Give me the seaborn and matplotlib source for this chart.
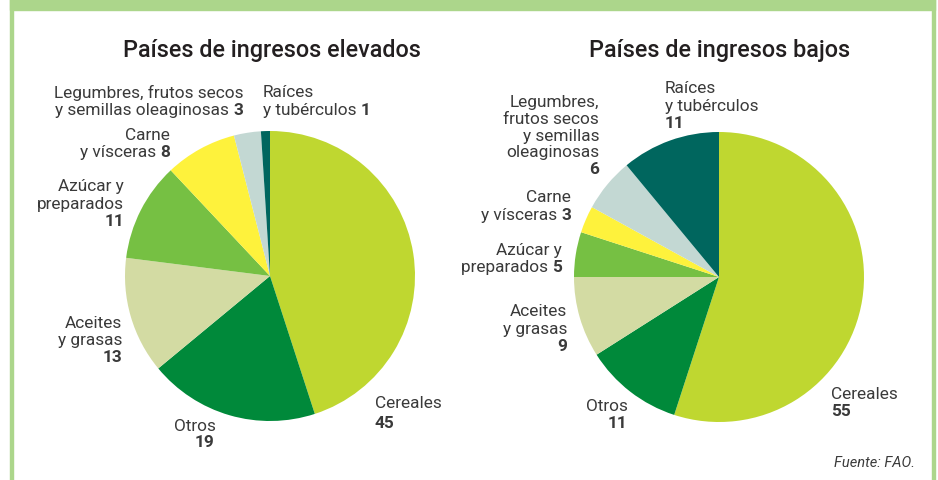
import matplotlib
matplotlib.use("Agg")
import matplotlib.pyplot as plt
import seaborn as sns
from matplotlib.patches import Rectangle

sns.set_theme(style="white")
plt.rcParams['font.family'] = ['Roboto', 'DejaVu Sans']

categories = ["Cereales", "Otros", "Aceites y grasas", "Azúcar y preparados",
              "Carne y vísceras", "Legumbres, frutos secos y semillas oleaginosas",
              "Raíces y tubérculos"]
altos = [45, 19, 13, 11, 8, 3, 1]
bajos = [55, 11, 9, 5, 3, 6, 11]
colors = ["#bfd730", "#00893a", "#d3dba3", "#76c043", "#fef23c", "#c3d8d3", "#00665e"]

W, H = 938, 481
fig = plt.figure(figsize=(W / 100, H / 100), dpi=100)
fig.patch.set_facecolor("white")

# marco verde
green = "#acd68b"
fig.patches.append(Rectangle((10 / W, 1 - 11 / H), 925 / W, 11 / H, transform=fig.transFigure,
                             color=green, zorder=0))
fig.patches.append(Rectangle((10 / W, 0), 3 / W, 1, transform=fig.transFigure, color=green, zorder=0))
fig.patches.append(Rectangle((932 / W, 0), 3 / W, 1, transform=fig.transFigure, color=green, zorder=0))

R = 145


def pie_axes(cx, cy, values):
    ax = fig.add_axes([(cx - R) / W, 1 - (cy + R) / H, 2 * R / W, 2 * R / H])
    ax.pie(values, colors=colors, startangle=90, counterclock=False,
           wedgeprops=dict(linewidth=0))
    ax.set_xlim(-1, 1)
    ax.set_ylim(-1, 1)
    ax.axis("off")
    return ax


pie_axes(270, 277, altos)
pie_axes(719, 278, bajos)

txt_color = "#3a3a3a"
fs = 12.4


def pos(x, y):
    return x / W, 1 - y / H


def label(x, y, lines, num, ha="right", inline=False, step=17.5):
    # lines: regular text lines; num: bold number (inline on last line or below)
    renderer = fig.canvas.get_renderer()
    n = len(lines)
    for i, line in enumerate(lines):
        yy = y + i * step
        last = (i == n - 1)
        if last and inline:
            if ha == "right":
                t = fig.text(*pos(x, yy), str(num), ha="right", va="center", fontsize=fs,
                             fontweight="bold", color=txt_color)
                bb = t.get_window_extent(renderer)
                fig.text(bb.x0 / W, 1 - yy / H, line + " ", ha="right", va="center",
                         fontsize=fs, color=txt_color)
            else:
                t = fig.text(*pos(x, yy), line + " ", ha="left", va="center", fontsize=fs,
                             color=txt_color)
                bb = t.get_window_extent(renderer)
                fig.text(bb.x1 / W, 1 - yy / H, str(num), ha="left", va="center",
                         fontsize=fs, fontweight="bold", color=txt_color)
        else:
            fig.text(*pos(x, yy), line, ha=ha, va="center", fontsize=fs, color=txt_color)
    if not inline:
        fig.text(*pos(x, y + n * step), str(num), ha=ha, va="center", fontsize=fs,
                 fontweight="bold", color=txt_color)


# titulos
fig.text(*pos(272, 50), "Países de ingresos elevados", ha="center", va="center",
         fontsize=16.8, fontweight="medium", color="#231f20")
fig.text(*pos(720, 50), "Países de ingresos bajos", ha="center", va="center",
         fontsize=16.8, fontweight="medium", color="#231f20")

# etiquetas: ingresos elevados
label(243, 93, ["Legumbres, frutos secos", "y semillas oleaginosas"], altos[5], inline=True)
label(263, 93, ["Raíces", "y tubérculos"], altos[6], ha="left", inline=True)
label(170, 135, ["Carne", "y vísceras"], altos[4], inline=True)
label(124, 187, ["Azúcar y", "preparados"], altos[3])
label(122, 324, ["Aceites", "y grasas"], altos[2], step=17)
fig.text(*pos(216, 427), "Otros", ha="right", va="center", fontsize=fs, color=txt_color)
fig.text(*pos(214, 443), str(altos[1]), ha="right", va="center", fontsize=fs,
         fontweight="bold", color=txt_color)
label(375, 404, ["Cereales"], altos[0], ha="left", step=20)

# etiquetas: ingresos bajos
label(599, 102, ["Legumbres,", "frutos secos", "y semillas", "oleaginosas"], bajos[5], step=17)
label(665, 89, ["Raíces", "y tubérculos"], bajos[6], ha="left", step=17)
label(571, 198, ["Carne", "y vísceras"], bajos[4], inline=True)
label(562, 250, ["Azúcar y", "preparados"], bajos[3], inline=True)
label(567, 312, ["Aceites", "y grasas"], bajos[2], step=17.5)
fig.text(*pos(628, 407), "Otros", ha="right", va="center", fontsize=fs, color=txt_color)
fig.text(*pos(627, 424), str(bajos[1]), ha="right", va="center", fontsize=fs,
         fontweight="bold", color=txt_color)
label(831, 395, ["Cereales"], bajos[0], ha="left", step=17)

fig.text(*pos(915, 463), "Fuente: FAO.", ha="right", va="center", fontsize=10.5,
         style="italic", color=txt_color)

fig.savefig("out.png", dpi=100)
